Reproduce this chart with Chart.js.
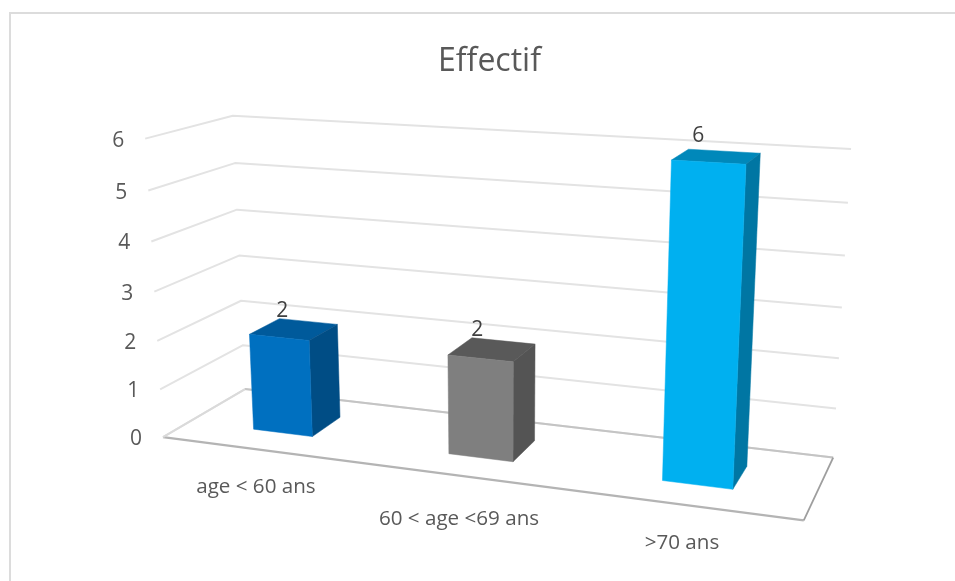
<!DOCTYPE html>
<html>
<head>
<meta charset="utf-8">
<title>Effectif</title>
<script src="https://cdn.jsdelivr.net/npm/chart.js@4"></script>
<style>
  html, body { margin: 0; padding: 0; background: #fff; overflow: hidden; }
  #wrap { position: relative; width: 955px; height: 581px; }
  #frame { position: absolute; left: 9px; top: 12px; right: 0; bottom: 0;
           border-top: 2px solid #dcdcdc; border-left: 2px solid #dcdcdc; }
  canvas { position: absolute; left: 0; top: 0; }
</style>
</head>
<body>
<div id="wrap">
  <canvas id="effectif" width="955" height="581"></canvas>
  <div id="frame"></div>
</div>
<script>
// chart data
var categories = ['age < 60 ans', '60 < age <69 ans', '>70 ans'];
var values = [2, 2, 6];
var yTicks = [0, 1, 2, 3, 4, 5, 6];

// bar faces
var frontColors = ['#0070c0', '#7f7f7f', '#00b0f0'];
var topColors = ['#005a9b', '#595959', '#0088ba'];
var sideColors = ['#004d85', '#545454', '#0076a3'];

var FONT = '"Open Sans", sans-serif';
var TEXT = '#595959';

// depth of the bars inside the box, 0 = front of floor, 1 = back wall
var BAR_FRONT = 0.31;
var BAR_BACK = 0.69;

// extra drop of each category label under the floor
var labelDrop = [0, 5, 0];

// box corners as [u, v, w] -> screen, used to fit the perspective camera
var camera = fitCamera([
  [0, 0, 0, 163, 437],
  [1, 0, 0, 804, 520],
  [0, 0, 1, 245, 389],
  [1, 0, 1, 833, 458],
  [0, 1, 0, 145, 139],
  [0, 1, 1, 233, 115.5],
  [1, 1, 1, 851, 149]
]);

// least squares fit of a 3x4 projection with its last term fixed to 1
function fitCamera(pts) {
  var n = 11, i, j, k;
  var A = [];
  for (i = 0; i < n; i++) {
    A.push(new Array(n + 1).fill(0));
  }
  function addRow(row, rhs) {
    for (var a = 0; a < n; a++) {
      for (var b = 0; b < n; b++) A[a][b] += row[a] * row[b];
      A[a][n] += row[a] * rhs;
    }
  }
  pts.forEach(function (p) {
    var u = p[0], v = p[1], w = p[2], x = p[3], y = p[4];
    addRow([u, v, w, 1, 0, 0, 0, 0, -x * u, -x * v, -x * w], x);
    addRow([0, 0, 0, 0, u, v, w, 1, -y * u, -y * v, -y * w], y);
  });
  for (i = 0; i < n; i++) A[i][i] += 1e-6;
  for (i = 0; i < n; i++) {
    var best = i;
    for (k = i + 1; k < n; k++) {
      if (Math.abs(A[k][i]) > Math.abs(A[best][i])) best = k;
    }
    var tmp = A[i]; A[i] = A[best]; A[best] = tmp;
    for (k = i + 1; k < n; k++) {
      var f = A[k][i] / A[i][i];
      for (j = i; j <= n; j++) A[k][j] -= f * A[i][j];
    }
  }
  var sol = new Array(n).fill(0);
  for (i = n - 1; i >= 0; i--) {
    var s = A[i][n];
    for (j = i + 1; j < n; j++) s -= A[i][j] * sol[j];
    sol[i] = s / A[i][i];
  }
  return sol;
}

function project(u, v, w) {
  var c = camera;
  var d = c[8] * u + c[9] * v + c[10] * w + 1;
  return {
    x: (c[0] * u + c[1] * v + c[2] * w + c[3]) / d,
    y: (c[4] * u + c[5] * v + c[6] * w + c[7]) / d
  };
}

function polyline(ctx, pts, color, width) {
  ctx.beginPath();
  pts.forEach(function (p, i) {
    if (i === 0) ctx.moveTo(p.x, p.y); else ctx.lineTo(p.x, p.y);
  });
  ctx.strokeStyle = color;
  ctx.lineWidth = width;
  ctx.lineJoin = 'round';
  ctx.stroke();
}

function face(ctx, pts, color) {
  ctx.beginPath();
  pts.forEach(function (p, i) {
    if (i === 0) ctx.moveTo(p.x, p.y); else ctx.lineTo(p.x, p.y);
  });
  ctx.closePath();
  ctx.fillStyle = color;
  ctx.fill();
  ctx.strokeStyle = color;
  ctx.lineWidth = 0.5;
  ctx.stroke();
}

// draws scales and bars through the perspective box instead of the flat plot
var boxPlugin = {
  id: 'box3d',
  beforeDatasetsDraw: function (chart) {
    var ctx = chart.ctx, area = chart.chartArea;
    var xs = chart.scales.x, ys = chart.scales.y;
    var W = area.right - area.left, H = area.bottom - area.top;
    function toU(px) { return (px - area.left) / W; }
    function toV(py) { return (area.bottom - py) / H; }

    ctx.save();

    // walls
    ys.ticks.forEach(function (t) {
      var v = toV(ys.getPixelForValue(t.value));
      polyline(ctx, [project(0, v, 0), project(0, v, 1), project(1, v, 1)], '#e3e3e3', 2);
    });

    // floor outline
    polyline(ctx, [project(0, 0, 1), project(1, 0, 1)], '#c4c4c4', 2);
    polyline(ctx, [project(0, 0, 0), project(1, 0, 0)], '#b4b4b4', 2.2);
    polyline(ctx, [project(1, 0, 0), project(1, 0, 1)], '#9e9e9e', 1.8);
    polyline(ctx, [project(0, 0, 0), project(0, 0, 1)], '#dadada', 2);

    // y tick labels
    ctx.font = '21px ' + FONT;
    ctx.fillStyle = TEXT;
    ctx.textAlign = 'center';
    ctx.textBaseline = 'middle';
    ys.ticks.forEach(function (t) {
      var p = project(0, toV(ys.getPixelForValue(t.value)), 0);
      ctx.fillText(String(t.value), p.x - 27, p.y + 2);
    });

    // category labels
    ctx.font = '20.6px ' + FONT;
    categories.forEach(function (name, i) {
      var p = project(toU(xs.getPixelForValue(i)), 0, 0);
      ctx.fillText(name, p.x - 2, p.y + 38 + labelDrop[i]);
    });

    // bars
    var meta = chart.getDatasetMeta(0);
    meta.data.forEach(function (bar, i) {
      var u0 = toU(bar.x - bar.width / 2), u1 = toU(bar.x + bar.width / 2);
      var v = toV(bar.y);
      face(ctx, [project(u0, v, BAR_FRONT), project(u1, v, BAR_FRONT),
                 project(u1, v, BAR_BACK), project(u0, v, BAR_BACK)], topColors[i]);
      face(ctx, [project(u1, 0, BAR_FRONT), project(u1, v, BAR_FRONT),
                 project(u1, v, BAR_BACK), project(u1, 0, BAR_BACK)], sideColors[i]);
      face(ctx, [project(u0, 0, BAR_FRONT), project(u1, 0, BAR_FRONT),
                 project(u1, v, BAR_FRONT), project(u0, v, BAR_FRONT)], frontColors[i]);

      // value label, just above the back edge of the top face
      var p = project(toU(bar.x), v * 1.02, BAR_BACK);
      ctx.font = '21px ' + FONT;
      ctx.fillStyle = '#404040';
      ctx.textAlign = 'center';
      ctx.textBaseline = 'alphabetic';
      ctx.fillText(String(values[i]), p.x - 26, p.y - 3);
    });

    ctx.restore();
    return false; // flat bars are replaced by the boxes above
  }
};

new Chart(document.getElementById('effectif'), {
  type: 'bar',
  data: {
    labels: categories,
    datasets: [{
      data: values,
      backgroundColor: frontColors,
      barPercentage: 0.31,
      categoryPercentage: 1
    }]
  },
  options: {
    responsive: false,
    animation: false,
    layout: { padding: { left: 24, top: 43 } },
    plugins: {
      legend: { display: false },
      tooltip: { enabled: false },
      title: {
        display: true,
        text: 'Effectif',
        color: TEXT,
        font: { family: FONT, size: 32, weight: 'normal' },
        padding: { top: 0, bottom: 10 }
      }
    },
    scales: {
      x: {
        ticks: { display: false },
        grid: { display: false },
        border: { display: false }
      },
      y: {
        min: yTicks[0],
        max: yTicks[yTicks.length - 1],
        ticks: { display: false, stepSize: 1 },
        grid: { display: false },
        border: { display: false }
      }
    }
  },
  plugins: [boxPlugin]
});
</script>
</body>
</html>
